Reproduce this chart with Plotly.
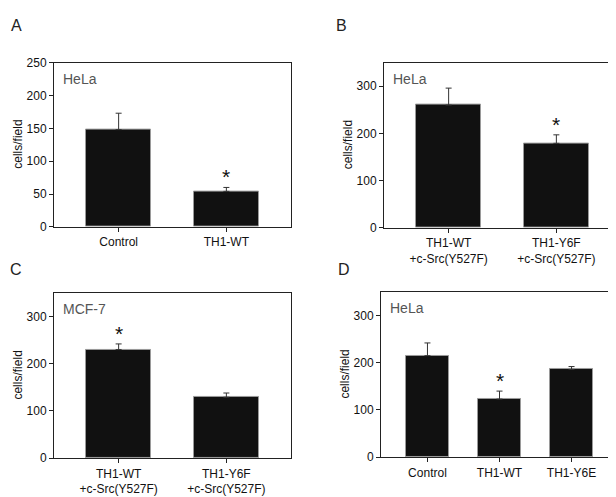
import plotly.graph_objects as go

W, H = 616, 497

# ---- data ----
a_labels = ["Control", "TH1-WT"]
a_means = [148, 54]
a_err = [25, 6]

b_labels = ["TH1-WT<br>+c-Src(Y527F)", "TH1-Y6F<br>+c-Src(Y527F)"]
b_means = [260, 179]
b_err = [36, 18]

c_labels = ["TH1-WT<br>+c-Src(Y527F)", "TH1-Y6F<br>+c-Src(Y527F)"]
c_means = [230, 129]
c_err = [12, 9]

d_labels = ["Control", "TH1-WT", "TH1-Y6E"]
d_means = [215, 123, 186]
d_err = [27, 17, 6]

panels = [
    dict(letter="A", cell="HeLa", labels=a_labels, means=a_means, err=a_err,
         star=1, yr=[0, 250], dtick=50, px=(46, 283), py=(49, 218),
         xr=[-0.6, 1.6], letter_pos=(8, 11)),
    dict(letter="B", cell="HeLa", labels=b_labels, means=b_means, err=b_err,
         star=1, yr=[0, 350], dtick=100, px=(376, 613), py=(49, 219),
         xr=[-0.6, 1.6], letter_pos=(333, 11)),
    dict(letter="C", cell="MCF-7", labels=c_labels, means=c_means, err=c_err,
         star=0, yr=[0, 350], dtick=100, px=(46, 283), py=(286, 456),
         xr=[-0.6, 1.6], letter_pos=(8, 262)),
    dict(letter="D", cell="HeLa", labels=d_labels, means=d_means, err=d_err,
         star=1, yr=[0, 350], dtick=100, px=(373, 610), py=(285, 455),
         xr=[-0.645, 2.645], letter_pos=(336, 262)),
]

FONT = "Liberation Sans, Arial, sans-serif"
fig = go.Figure()
annotations = []

for i, p in enumerate(panels):
    n = i + 1
    xa = "x" if n == 1 else f"x{n}"
    ya = "y" if n == 1 else f"y{n}"
    xs = list(range(len(p["means"])))
    fig.add_trace(go.Bar(
        x=xs, y=p["means"], width=0.6, xaxis=xa, yaxis=ya,
        marker=dict(color="#111111", line=dict(color="#9a9a9a", width=1)),
        error_y=dict(type="data", array=p["err"], arrayminus=[0] * len(xs),
                     symmetric=False, color="#333333", thickness=1, width=3),
        showlegend=False,
    ))
    x0, x1 = p["px"]
    y0, y1 = p["py"]
    dom_x = [x0 / W, x1 / W]
    dom_y = [1 - y1 / H, 1 - y0 / H]
    axkey = "xaxis" if n == 1 else f"xaxis{n}"
    aykey = "yaxis" if n == 1 else f"yaxis{n}"
    fig.update_layout({
        axkey: dict(domain=dom_x, range=p["xr"], anchor=ya,
                    tickvals=xs, ticktext=p["labels"],
                    showline=True, linecolor="#222222", linewidth=1, mirror=True,
                    ticks="outside", ticklen=4, tickcolor="#222222",
                    showgrid=False, zeroline=False, fixedrange=True,
                    tickfont=dict(family=FONT, size=12, color="#111111")),
        aykey: dict(domain=dom_y, range=p["yr"], anchor=xa, dtick=p["dtick"],
                    showline=True, linecolor="#222222", linewidth=1, mirror=True,
                    ticks="outside", ticklen=4, tickcolor="#222222",
                    showgrid=False, zeroline=False, fixedrange=True,
                    tickfont=dict(family=FONT, size=12, color="#111111")),
    })
    # asterisk
    s = p["star"]
    annotations.append(dict(x=s, y=p["means"][s] + p["err"][s], xref=xa, yref=ya,
                            text="*", showarrow=False, yanchor="bottom", yshift=-3,
                            font=dict(family=FONT, size=21, color="#111111")))
    # cell line label
    annotations.append(dict(x=(x0 + 7) / W, y=1 - (y0 + 17) / H, xref="paper", yref="paper",
                            text=p["cell"], showarrow=False, xanchor="left", yanchor="middle",
                            font=dict(family=FONT, size=14, color="#555555")))
    # y title
    annotations.append(dict(x=(x0 - 36) / W, y=1 - ((y0 + y1) / 2) / H, xref="paper", yref="paper",
                            text="cells/field", showarrow=False, textangle=-90,
                            xanchor="center", yanchor="middle",
                            font=dict(family=FONT, size=12, color="#111111")))
    # panel letter
    lx, ly = p["letter_pos"]
    annotations.append(dict(x=lx / W, y=1 - ly / H, xref="paper", yref="paper",
                            text=p["letter"], showarrow=False, xanchor="center", yanchor="middle",
                            font=dict(family=FONT, size=16, color="#222222")))

fig.update_layout(
    width=W, height=H, margin=dict(l=0, r=0, t=0, b=0),
    paper_bgcolor="white", plot_bgcolor="white",
    annotations=annotations, bargap=0,
)

fig.write_html("out.html")
